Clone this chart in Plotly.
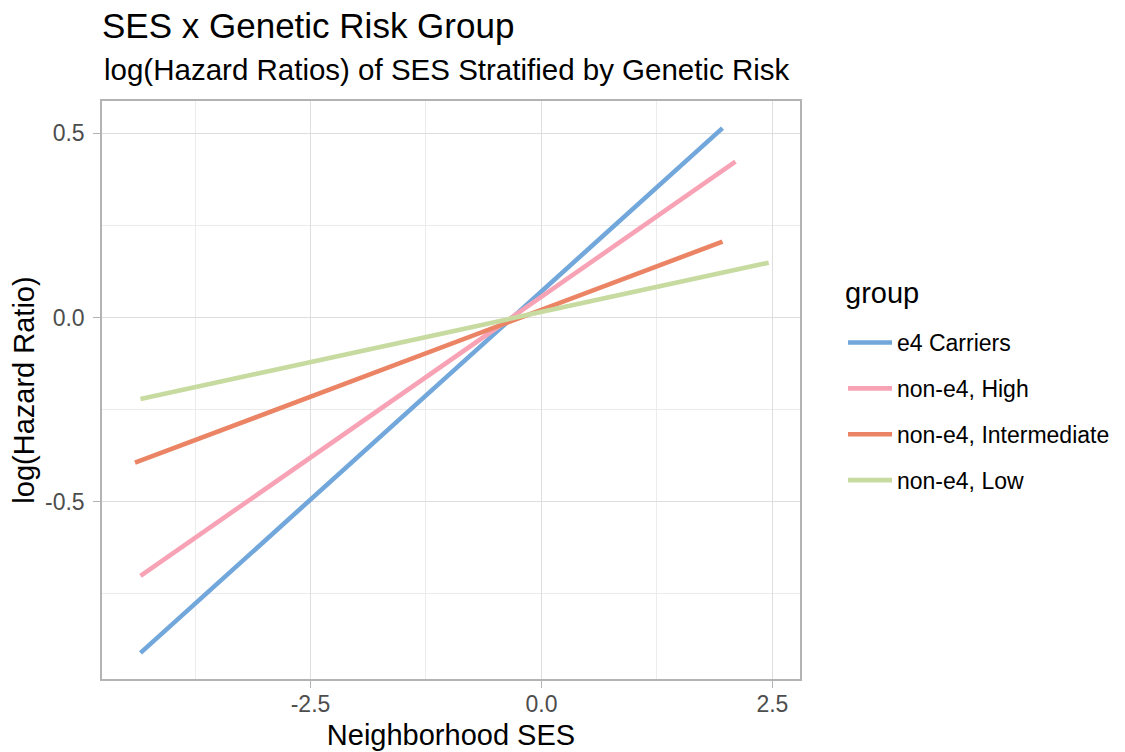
import plotly.graph_objects as go

groups = ["e4 Carriers", "non-e4, High", "non-e4, Intermediate", "non-e4, Low"]
colors = ["#72a7db", "#f8a3b5", "#eb8464", "#c7dba1"]
x_start = [-4.34, -4.34, -4.40, -4.34]
x_end = [1.96, 2.10, 1.96, 2.46]
y_start = [-0.910, -0.701, -0.394, -0.221]
y_end = [0.514, 0.423, 0.206, 0.149]

x_tickvals = [-2.5, 0.0, 2.5]
x_ticktext = ["-2.5", "0.0", "2.5"]
y_tickvals = [-0.5, 0.0, 0.5]
y_ticktext = ["-0.5", "0.0", "0.5"]

FONT = "Liberation Sans, Arial, sans-serif"

fig = go.Figure()
for i, g in enumerate(groups):
    fig.add_trace(go.Scatter(
        x=[x_start[i], x_end[i]], y=[y_start[i], y_end[i]],
        mode="lines", name=g, legendgroup=g,
        line=dict(color=colors[i], width=4.6),
    ))

W, H = 1125, 752
L, R, T, B = 102, 1125 - 800, 101, 752 - 679
PH = 679 - 101
PW = 800 - 102

fig.update_layout(
    width=W, height=H,
    margin=dict(l=L, r=R, t=T, b=B, autoexpand=False),
    paper_bgcolor="white", plot_bgcolor="white",
    font=dict(family=FONT, color="black"),
    title=dict(text="SES x Genetic Risk Group", x=L / W, xanchor="left",
               xref="container", y=1 - 26 / H, yanchor="middle", yref="container",
               font=dict(size=35, color="black", family=FONT)),
    annotations=[
        dict(text="log(Hazard Ratios) of SES Stratified by Genetic Risk",
             xref="paper", yref="paper", x=0, xanchor="left",
             y=(679 - 70) / PH, yanchor="middle", showarrow=False,
             font=dict(size=29.5, color="black", family=FONT)),
        dict(text="group", xref="paper", yref="paper",
             x=(843 - L) / PW, xanchor="left", y=(679 - 293) / PH, yanchor="middle",
             showarrow=False, font=dict(size=29, color="black", family=FONT)),
    ],
    legend=dict(
        font=dict(size=23, color="black", family=FONT),
        x=(843 - L) / PW, xanchor="left", y=(679 - 321) / PH, yanchor="top",
        tracegroupgap=13, itemwidth=44, bgcolor="rgba(0,0,0,0)",
    ),
    xaxis=dict(
        range=[-4.757, 2.799], tickvals=x_tickvals, ticktext=x_ticktext,
        showgrid=True, gridcolor="#dedede", gridwidth=1.3,
        minor=dict(dtick=1.25, tick0=0, showgrid=True, gridcolor="#ececec", gridwidth=1),
        zeroline=False, showline=True, mirror=True, linecolor="#b3b3b3", linewidth=1.5,
        ticks="outside", ticklen=7, tickcolor="#b3b3b3", tickwidth=1.3,
        tickfont=dict(size=23, color="#4d4d4d", family=FONT), ticklabelstandoff=-3,
        title=dict(text="Neighborhood SES", font=dict(size=29, color="black", family=FONT), standoff=8),
        automargin=False,
    ),
    yaxis=dict(
        range=[-0.981, 0.5877], tickvals=y_tickvals, ticktext=y_ticktext,
        showgrid=True, gridcolor="#dedede", gridwidth=1.3,
        minor=dict(dtick=0.25, tick0=0, showgrid=True, gridcolor="#ececec", gridwidth=1),
        zeroline=False, showline=True, mirror=True, linecolor="#b3b3b3", linewidth=1.5,
        ticks="outside", ticklen=7, tickcolor="#b3b3b3", tickwidth=1.3,
        tickfont=dict(size=23, color="#4d4d4d", family=FONT), ticklabelstandoff=4,
        title=dict(text="log(Hazard Ratio)", font=dict(size=29, color="black", family=FONT), standoff=2),
        automargin=False,
    ),
)

fig.write_html("out.html")
